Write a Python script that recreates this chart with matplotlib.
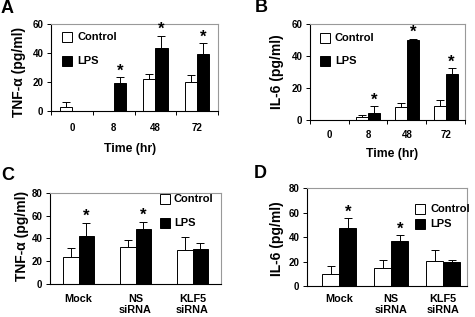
import numpy as np
import matplotlib
matplotlib.use("Agg")
import matplotlib.pyplot as plt

plt.rcParams['font.family'] = ['Liberation Sans', 'DejaVu Sans']
plt.rcParams['font.weight'] = 'bold'

# panel A: TNF-a vs time
time_labels = ['0', '8', '48', '72']
tnf_ctrl = [2.7, 0, 21.7, 20.3]
tnf_ctrl_err = [3.5, 0, 4.1, 4.8]
tnf_lps = [0, 19.4, 43.4, 39.3]
tnf_lps_err = [0, 3.9, 8.4, 7.5]
tnf_star = [False, True, True, True]

# panel B: IL-6 vs time
il6_ctrl = [0, 1.7, 8.0, 9.0]
il6_ctrl_err = [0, 1.7, 2.7, 3.2]
il6_lps = [0, 4.4, 49.9, 29.0]
il6_lps_err = [0, 4.2, 0.8, 3.3]
il6_star = [False, True, True, True]

# panels C, D: siRNA
sirna_labels = ['Mock', 'NS\nsiRNA', 'KLF5\nsiRNA']
tnf2_ctrl = [23.5, 32.3, 30.0]
tnf2_ctrl_err = [8.5, 6.4, 11.0]
tnf2_lps = [42.0, 48.0, 30.5]
tnf2_lps_err = [11.8, 6.7, 5.3]
tnf2_star = [True, True, False]

il62_ctrl = [9.6, 14.5, 20.5]
il62_ctrl_err = [7.1, 6.5, 8.5]
il62_lps = [47.3, 36.9, 19.4]
il62_lps_err = [8.2, 4.6, 1.6]
il62_star = [True, True, False]


def panel(ax, labels, ctrl, ctrl_err, lps, lps_err, star, w, ymax, ystep,
          ylabel, ylab_xy, legend_xy, tick_pad, xlim=None, boundaries=False):
    x = np.arange(len(labels))
    ax.bar(x - w / 2, ctrl, w, color='white', edgecolor='black', linewidth=0.7, zorder=2)
    ax.bar(x + w / 2, lps, w, color='black', edgecolor='black', linewidth=0.7, zorder=2)
    for xs, v, e in [(x - w / 2, ctrl, ctrl_err), (x + w / 2, lps, lps_err)]:
        for xi, vi, ei in zip(xs, v, e):
            if ei > 0:
                ax.errorbar(xi, vi, yerr=[[0], [ei]], fmt='none', ecolor='black',
                            elinewidth=0.7, capsize=2.8, capthick=0.7, zorder=1)
    for i in range(len(labels)):
        if star[i]:
            ax.annotate('*', (x[i] + w / 2, lps[i] + lps_err[i]), xytext=(0, -1),
                        textcoords='offset points', ha='center', va='bottom',
                        fontsize=12, fontweight='bold')
    ax.set_ylim(0, ymax)
    ax.set_yticks(np.arange(0, ymax + 1, ystep))
    if xlim is None:
        xlim = (-0.5, len(labels) - 0.5)
    ax.set_xlim(*xlim)
    ax.set_xticks(x)
    ax.set_xticklabels(labels, fontsize=7 if boundaries else 7.8, fontweight='bold',
                       linespacing=1.1)
    ax.tick_params(axis='x', length=0, pad=tick_pad)
    if boundaries:
        ax.set_xticks(np.arange(-0.5, len(labels)), minor=True)
        ax.tick_params(axis='x', which='minor', length=3, width=0.7, direction='out')
    ax.tick_params(axis='y', length=3, width=0.7, pad=2.5, labelsize=7)
    for t in ax.get_yticklabels():
        t.set_fontweight('bold')
    ax.spines['left'].set_linewidth(0.8)
    ax.spines['bottom'].set_linewidth(0.8)
    ax.spines['top'].set_color('#999999')
    ax.spines['right'].set_color('#999999')
    ax.spines['top'].set_linewidth(0.8)
    ax.spines['right'].set_linewidth(0.8)
    ax.set_ylabel(ylabel, fontsize=10, fontweight='bold')
    ax.yaxis.set_label_coords(*ylab_xy)
    sx, tx, y1, y2 = legend_xy
    ax.plot([sx], [y1], marker='s', ms=7, mfc='white', mec='black', mew=0.7,
            transform=ax.transAxes, clip_on=False)
    ax.plot([sx], [y2], marker='s', ms=7, mfc='black', mec='black', mew=0.7,
            transform=ax.transAxes, clip_on=False)
    ax.text(tx, y1, 'Control', transform=ax.transAxes, va='center', fontsize=8, fontweight='bold')
    ax.text(tx, y2, 'LPS', transform=ax.transAxes, va='center', fontsize=8, fontweight='bold')


fig = plt.figure(figsize=(4.75, 3.17), dpi=100)
axA = fig.add_axes([0.1074, 0.650, 0.3516, 0.2744])
axB = fig.add_axes([0.6526, 0.6215, 0.3263, 0.3028])
axC = fig.add_axes([0.1053, 0.1041, 0.36, 0.2871])
axD = fig.add_axes([0.6463, 0.0978, 0.3368, 0.3091])

panel(axA, time_labels, tnf_ctrl, tnf_ctrl_err, tnf_lps, tnf_lps_err, tnf_star, 0.29, 60, 20,
      'TNF-α (pg/ml)', (-0.15, 0.45), (0.096, 0.156, 0.845, 0.569), 9, boundaries=True)
panel(axB, time_labels, il6_ctrl, il6_ctrl_err, il6_lps, il6_lps_err, il6_star, 0.31, 60, 20,
      'IL-6 (pg/ml)', (-0.168, 0.5), (0.097, 0.161, 0.859, 0.615), 7.5, boundaries=True)
panel(axC, sirna_labels, tnf2_ctrl, tnf2_ctrl_err, tnf2_lps, tnf2_lps_err, tnf2_star, 0.28, 80, 20,
      'TNF-α (pg/ml)', (-0.123, 0.53), (0.672, 0.725, 0.934, 0.665), 7.5)
panel(axD, sirna_labels, il62_ctrl, il62_ctrl_err, il62_lps, il62_lps_err, il62_star, 0.33, 80, 20,
      'IL-6 (pg/ml)', (-0.144, 0.48), (0.706, 0.769, 0.781, 0.628), 6, xlim=(-0.62, 2.46))

axA.set_xlabel('Time (hr)', fontsize=8.8, fontweight='bold')
axA.xaxis.set_label_coords(0.473, -0.368)
axB.set_xlabel('Time (hr)', fontsize=8.8, fontweight='bold')
axB.xaxis.set_label_coords(0.53, -0.292)

for lab, px, py in [('A', 7.5, 8.5), ('B', 261, 7.5), ('C', 7.5, 175), ('D', 260, 174)]:
    fig.text(px / 475, 1 - py / 317, lab, ha='center', va='center', fontsize=13, fontweight='bold')

fig.savefig('out.png', dpi=100)
